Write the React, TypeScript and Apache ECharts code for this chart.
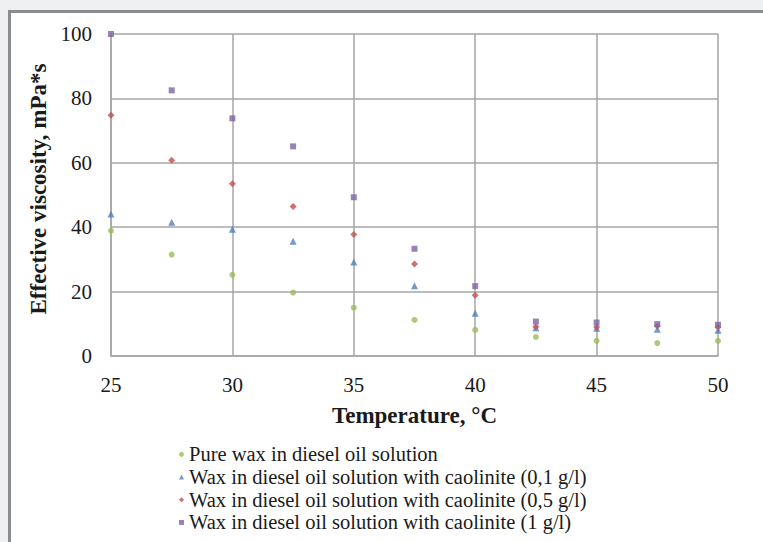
import React, { useEffect, useRef } from "react";
import * as echarts from "echarts";

const temperatures = [25, 27.5, 30, 32.5, 35, 37.5, 40, 42.5, 45, 47.5, 50];
const pureWax = [38.9, 31.5, 25.2, 19.7, 15.0, 11.2, 8.1, 5.9, 4.7, 4.0, 4.7];
const caolinite01 = [44.1, 41.5, 39.4, 35.6, 29.2, 21.8, 13.3, 8.8, 8.6, 8.3, 8.0];
const caolinite05 = [74.8, 60.8, 53.5, 46.4, 37.7, 28.6, 18.9, 9.1, 9.0, 9.3, 8.9];
const caolinite1 = [100, 82.5, 73.8, 65.1, 49.3, 33.3, 21.7, 10.7, 10.4, 9.9, 9.7];

const seriesNames = [
  "Pure wax in diesel oil solution",
  "Wax in diesel oil solution with caolinite (0,1 g/l)",
  "Wax in diesel oil solution with caolinite (0,5 g/l)",
  "Wax in diesel oil solution with caolinite (1 g/l)",
];
const seriesValues = [pureWax, caolinite01, caolinite05, caolinite1];
const seriesColors = ["#9BBB59", "#4F81BD", "#C0504D", "#8064A2"];
const seriesSymbols = ["circle", "triangle", "diamond", "rect"];
const seriesSizes = [6, 7, 7, 6];

const FONT = "'Liberation Serif', 'Times New Roman', serif";

export default function App() {
  const ref = useRef<HTMLDivElement>(null);
  useEffect(() => {
    if (!ref.current) return;
    const chart = echarts.init(ref.current, undefined, { renderer: "svg" });
    chart.setOption({
      animation: false,
      textStyle: { fontFamily: FONT },
      grid: { left: 111, right: 45, top: 34, bottom: 186 },
      xAxis: {
        type: "value",
        min: 25,
        max: 50,
        interval: 5,
        name: "Temperature, °C",
        nameLocation: "middle",
        nameGap: 48,
        nameTextStyle: { fontFamily: FONT, fontSize: 23, fontWeight: "bold", color: "#1a1a1a" },
        axisLine: { show: true, lineStyle: { color: "#a6a6a6", width: 1.5 } },
        axisTick: { show: false },
        axisLabel: { fontFamily: FONT, fontSize: 21, color: "#1a1a1a", margin: 18 },
        splitLine: { show: true, lineStyle: { color: "#a6a6a6", width: 1.5 } },
      },
      yAxis: {
        type: "value",
        min: 0,
        max: 100,
        interval: 20,
        name: "Effective viscosity, mPa*s",
        nameLocation: "middle",
        nameGap: 56,
        nameTextStyle: { fontFamily: FONT, fontSize: 23, fontWeight: "bold", color: "#1a1a1a", padding: [0, 0, 0, 12] },
        axisLine: { show: true, lineStyle: { color: "#a6a6a6", width: 1.5 } },
        axisTick: { show: false },
        axisLabel: { fontFamily: FONT, fontSize: 21, color: "#1a1a1a", margin: 19 },
        splitLine: { show: true, lineStyle: { color: "#a6a6a6", width: 1.5 } },
      },
      legend: {
        orient: "vertical",
        left: 179,
        top: 443,
        height: 100,
        padding: 0,
        itemWidth: 5,
        itemHeight: 5,
        itemGap: 0,
        textStyle: { fontFamily: FONT, fontSize: 20.5, color: "#1a1a1a", lineHeight: 22.7 },
        data: seriesNames.map((n, i) => ({ name: n, icon: seriesSymbols[i] })),
      },
      series: seriesNames.map((name, i) => ({
        name,
        type: "scatter",
        symbol: seriesSymbols[i],
        symbolSize: seriesSizes[i],
        itemStyle: { color: seriesColors[i] },
        data: temperatures.map((t, j) => [t, seriesValues[i][j]]),
      })),
    });
    return () => chart.dispose();
  }, []);
  return (
    <div style={{ position: "fixed", left: 0, top: 0, width: 763, height: 542, background: "#eef0f2", overflow: "hidden" }}>
      <div
        style={{
          position: "absolute",
          left: 8,
          top: 10,
          width: 760,
          height: 540,
          background: "#ffffff",
          borderLeft: "3px solid #8c8c8c",
          borderTop: "3px solid #8c8c8c",
        }}
      />
      <div ref={ref} style={{ position: "absolute", left: 0, top: 0, width: 763, height: 542 }} />
    </div>
  );
}
